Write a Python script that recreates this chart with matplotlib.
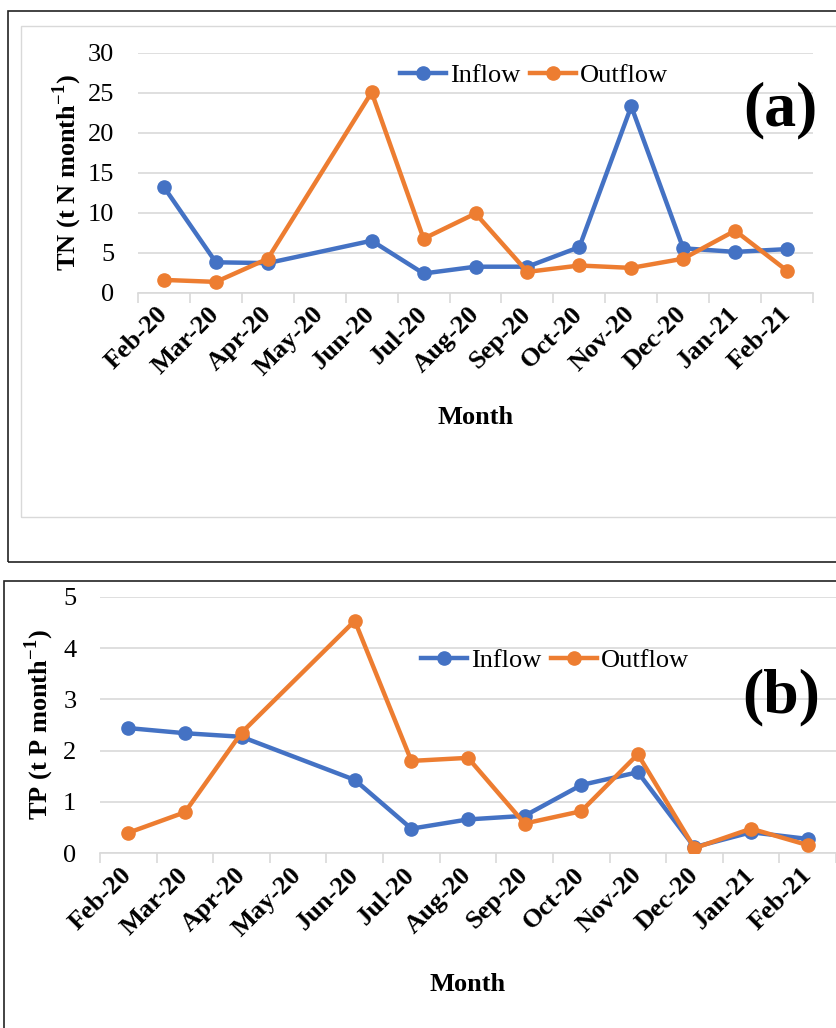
import matplotlib
matplotlib.use('Agg')
from matplotlib import pyplot as plt
from matplotlib.patches import Rectangle

plt.rcParams['font.family'] = ['Liberation Serif', 'DejaVu Serif']
plt.rcParams['mathtext.fontset'] = 'custom'
plt.rcParams['mathtext.rm'] = 'Liberation Serif'
plt.rcParams['mathtext.bf'] = 'Liberation Serif:bold'

months = ['Feb-20', 'Mar-20', 'Apr-20', 'May-20', 'Jun-20', 'Jul-20', 'Aug-20',
          'Sep-20', 'Oct-20', 'Nov-20', 'Dec-20', 'Jan-21', 'Feb-21']

# May-20 has no sample
tn_inflow = [13.2, 3.8, 3.7, None, 6.5, 2.4, 3.25, 3.25, 5.7, 23.3, 5.55, 5.1, 5.45]
tn_outflow = [1.6, 1.35, 4.25, None, 25.05, 6.75, 9.9, 2.6, 3.4, 3.1, 4.25, 7.75, 2.75]
tp_inflow = [2.44, 2.34, 2.27, None, 1.43, 0.48, 0.66, 0.73, 1.33, 1.58, 0.12, 0.41, 0.28]
tp_outflow = [0.40, 0.80, 2.35, None, 4.53, 1.80, 1.86, 0.58, 0.82, 1.93, 0.10, 0.48, 0.16]

blue = '#4472C4'
orange = '#ED7D31'
grid = '#D9D9D9'

W, H = 837, 1028
fig = plt.figure(figsize=(W / 100, H / 100), dpi=100)

# panel frames
fig.patches.append(Rectangle((8 / W, 1 - 562 / H), 1, 551 / H, transform=fig.transFigure,
                             fill=False, edgecolor='#222222', lw=1.2))
fig.patches.append(Rectangle((21 / W, 1 - 517 / H), 1, 491 / H, transform=fig.transFigure,
                             fill=False, edgecolor='#D9D9D9', lw=1.0))
fig.patches.append(Rectangle((4 / W, -0.1), 1, 1 - 581 / H + 0.1, transform=fig.transFigure,
                             fill=False, edgecolor='#222222', lw=1.2))


def draw(ax, inflow, outflow, ymax, ystep, ylabel, tag, legend_pos, tag_pos, ylab_x, xlab_y):
    for vals, c, name in [(inflow, blue, 'Inflow'), (outflow, orange, 'Outflow')]:
        xs = [i for i, v in enumerate(vals) if v is not None]
        ys = [v for v in vals if v is not None]
        ax.plot(xs, ys, color=c, lw=3.2, marker='o', ms=9.5, label=name, zorder=3)
    ax.set_xlim(-0.5, len(months) - 0.5)
    ax.set_ylim(0, ymax)
    ax.set_yticks(range(0, ymax + 1, ystep))
    ax.yaxis.grid(True, color=grid, lw=1.2)
    ax.set_axisbelow(True)
    for s in ['top', 'right', 'left']:
        ax.spines[s].set_visible(False)
    ax.spines['bottom'].set_color(grid)
    ax.spines['bottom'].set_linewidth(1.2)
    ax.set_xticks(range(len(months)))
    ax.set_xticklabels(months, rotation=45, ha='right', va='center', rotation_mode='anchor',
                       fontsize=19, fontweight='bold')
    ax.set_xticks([i - 0.5 for i in range(len(months) + 1)], minor=True)
    ax.tick_params(axis='x', which='major', length=0, pad=13)
    ax.tick_params(axis='x', which='minor', length=7, color=grid, width=1.2)
    ax.tick_params(axis='y', length=0, pad=17, labelsize=19)
    ax.set_ylabel(ylabel, fontsize=19, fontweight='bold', va='center')
    ax.yaxis.set_label_coords(ylab_x, 0.5)
    ax.set_xlabel('Month', fontsize=19, fontweight='bold', va='center')
    ax.xaxis.set_label_coords(0.5, xlab_y)
    ax.legend(loc='center', bbox_to_anchor=legend_pos, ncol=2, frameon=False, fontsize=19,
              handlelength=1.75, handletextpad=0.15, columnspacing=0.35)
    ax.text(tag_pos[0], tag_pos[1], tag, transform=ax.transAxes, fontsize=46,
            fontweight='bold', ha='center', va='center')


ax1 = fig.add_axes([138 / W, 1 - 292.7 / H, 675 / W, 240 / H])
draw(ax1, tn_inflow, tn_outflow, 30, 5, r'TN (t N month$^{\mathbf{-1}}$)', '(a)',
     (0.587, 0.907), (0.951, 0.761), -0.105, -0.518)

ax2 = fig.add_axes([100 / W, 1 - 853.3 / H, 736 / W, 256.6 / H])
draw(ax2, tp_inflow, tp_outflow, 5, 1, r'TP (t P month$^{\mathbf{-1}}$)', '(b)',
     (0.618, 0.753), (0.925, 0.609), -0.083, -0.513)

fig.savefig('out.png', dpi=100)
